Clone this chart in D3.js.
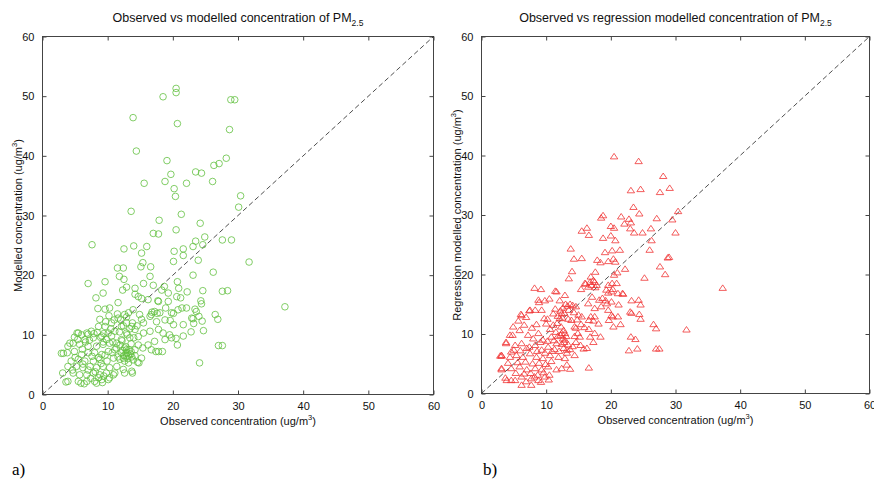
<!DOCTYPE html>
<html>
<head>
<meta charset="utf-8">
<script src="https://cdn.jsdelivr.net/npm/d3@7.9.0/dist/d3.min.js"></script>
<style>
  body { margin: 0; background: #fff; }
  svg { display: block; font-family: "Liberation Sans", Arial, sans-serif; }
</style>
</head>
<body>
<svg id="chart" width="874" height="481"></svg>
<script>
// --- data ---
const axisTicks = [0, 10, 20, 30, 40, 50, 60];
const panelTitles = ['Observed vs modelled concentration of PM', 'Observed vs regression modelled concentration of PM'];
const yLabels = ['Modelled concentration (ug/m', 'Regression modelled concentration (ug/m'];
const xLabel = 'Observed concentration (ug/m';
const panelTags = ['a)', 'b)'];

// panel a: observed vs modelled (circles)
const panelAPoints = [
  [20.5,51.3],[20.5,50.6],[18.5,49.9],[28.9,49.4],[29.5,49.4],[13.9,46.4],[20.7,45.4],[28.7,44.4],[14.4,40.8],[19.1,39.2],
  [28.2,39.6],[27.1,38.7],[26.3,38.4],[19.7,36.9],[23.5,37.3],[24.4,37.1],[15.6,35.4],[18.8,35.7],[22.1,35.4],[26.1,35.7],
  [20.2,34.5],[20.4,33.2],[30.4,33.3],[30.1,31.4],[13.6,30.7],[21.3,30.2],[24.2,28.7],[17.9,29.2],[20.5,27.6],[17.0,27.0],
  [17.8,26.9],[24.9,26.4],[23.5,25.7],[27.6,25.9],[29.0,25.9],[7.6,25.1],[14.0,24.9],[16.0,24.8],[12.5,24.4],[23.1,24.8],
  [24.6,25.1],[21.6,24.4],[20.2,24.0],[21.6,23.3],[15.2,23.7],[23.9,22.5],[20.1,22.3],[31.7,22.2],[11.5,21.2],[12.4,21.2],
  [15.1,21.4],[16.6,21.4],[15.4,22.1],[11.8,19.8],[12.5,19.3],[9.6,18.9],[7.0,18.6],[16.5,19.8],[15.5,18.6],[17.0,18.3],
  [18.7,18.1],[20.7,18.9],[26.2,20.5],[23.1,20.0],[12.9,18.0],[12.3,17.5],[14.2,17.8],[18.3,17.5],[20.9,17.8],[22.2,17.2],
  [24.6,17.4],[27.6,17.3],[28.4,17.4],[9.3,17.0],[8.2,16.2],[14.2,16.8],[19.3,17.0],[21.2,16.2],[24.3,15.7],[37.2,14.7],
  [11.6,15.4],[17.7,15.7],[15.2,16.1],[8.5,14.4],[10.3,14.5],[9.6,14.3],[21.4,14.5],[23.4,14.3],[17.2,13.9],[16.8,13.8],
  [17.6,13.6],[20.1,13.6],[26.5,13.4],[26.9,12.6],[24.5,12.3],[23.1,12.7],[19.6,12.4],[24.7,10.7],[22.8,10.5],[21.6,9.8],
  [19.8,9.5],[27.0,8.2],[27.6,8.2],[20.7,8.3],[24.1,5.3],[18.4,7.2],[17.4,7.2],[14.6,5.4],[13.8,3.6],[12.6,3.6],
  [11.1,3.6],[10.3,2.8],[3.2,6.9],[2.9,6.9],[3.6,2.1],[3.1,3.6],[5.3,10.3],[4.2,8.6],
  [14.7,16.4],[19.3,15.6],[20.6,16.4],[17.8,15.6],[16.2,15.9],[18.9,14.5],[16.7,13.4],[18.0,13.7],[19.8,13.7],[20.8,14.2],
  [22.1,14.5],[23.6,13.9],[24.4,15.2],[13.2,13.7],[13.9,14.2],[14.9,13.4],[15.2,12.6],[15.5,12.0],[16.5,13.1],[17.5,12.2],
  [18.8,12.5],[20.1,11.7],[21.6,11.7],[22.9,12.8],[23.2,11.9],[24.0,13.1],[12.9,12.0],[13.7,11.4],[14.2,10.9],[14.7,9.7],
  [15.5,10.3],[16.5,10.6],[17.8,10.9],[18.5,10.3],[19.5,10.0],[20.5,9.4],[18.8,9.2],[17.2,8.9],[16.2,8.3],[15.4,7.8],
  [14.7,8.3],[13.4,9.5],[14.2,7.5],[16.7,7.5],[17.8,7.2],[13.7,6.3],[15.2,6.1],[12.9,7.5],[13.7,3.9],
  [12.6,13.4],[11.6,12.8],[10.6,12.0],[9.6,11.4],[8.6,11.4],[7.5,10.6],[6.8,10.3],[5.5,10.3],[6.5,9.2],[7.8,9.5],
  [9.1,9.8],[10.1,10.3],[11.1,10.6],[12.1,11.4],[12.9,10.3],[12.1,9.2],[11.4,8.6],[10.3,8.6],[9.3,8.4],[8.3,8.1],
  [7.0,8.1],[5.7,8.4],[4.7,8.6],[3.9,8.1],[3.8,7.0],[4.9,7.2],[6.0,6.7],[7.0,7.0],[8.0,7.0],[9.1,6.7],
  [10.1,7.2],[11.1,7.5],[12.1,7.0],[12.9,6.4],[12.6,7.8],[11.9,5.9],[10.9,6.1],[9.9,5.6],[8.8,5.9],[7.8,5.6],
  [6.5,5.6],[5.5,5.9],[4.4,5.6],[5.2,4.7],[6.2,4.5],[7.3,4.7],[8.3,4.5],[9.3,4.7],[10.3,4.5],[11.4,4.7],
  [12.4,4.2],[13.2,5.3],[3.9,4.7],[4.7,3.6],[5.7,3.3],[6.8,3.3],[7.8,3.6],[8.8,3.3],[9.8,3.6],[10.9,3.3],
  [3.9,2.2],[5.5,2.2],[6.8,2.2],[8.0,2.2],[9.1,2.5],[10.1,2.5],
  [12.5,6.5],[13.0,7.0],[13.3,7.5],[12.8,8.0],[13.5,6.8],[13.1,6.0],[12.6,5.6],[13.6,8.5],[12.2,9.0],[13.0,10.0],
  [13.4,11.0],[12.4,11.5],[12.0,12.5],[11.8,10.5],[14.0,9.5],[13.8,12.0],[12.9,13.0],[11.5,13.5],[11.0,12.5],[10.5,11.0],
  [14.5,11.5],[14.2,6.5],[13.9,5.8],[14.8,5.3],[11.6,6.3],[11.3,7.8],[10.8,8.8],[10.6,9.8],[9.8,9.2],[9.4,10.2],
  [9.7,12.2],[10.2,13.2],[8.8,12.6],[8.4,10.4],[7.2,9.1],[6.6,8.8],[6.1,7.6],[7.6,6.4],[8.6,6.2],[9.6,6.6],
  [9.0,5.2],[8.1,3.8],[8.6,2.8],[9.4,3.1],[7.4,2.7],[6.4,1.8],[5.9,1.9],[8.3,1.9],[9.2,2.0],[7.0,4.1],
  [6.2,5.1],[5.0,6.2],[4.6,4.1],[5.4,9.2],[4.9,9.6],[6.0,10.0],[7.0,10.1],[7.9,10.2],[8.9,9.6],[9.3,8.8],
  [10.7,7.0],[11.9,8.3],[12.3,7.4],[13.2,6.6],[12.8,6.9],[13.6,7.2],[12.4,6.1]
];

// panel b: observed vs regression modelled (triangles)
const panelBPoints = [
  [20.5,39.8],[24.3,39.0],[28.1,36.5],[29.1,34.5],[23.1,34.1],[24.6,34.3],[27.6,33.8],[23.5,31.3],[30.4,30.6],[18.8,29.9],
  [18.5,29.5],[24.4,30.2],[21.6,29.7],[27.1,29.4],[22.8,29.3],[29.5,29.2],[23.1,28.7],[22.1,28.5],[20.0,28.1],[20.5,27.8],
  [16.3,27.8],[15.5,27.3],[23.0,27.7],[26.2,27.7],[23.6,27.0],[24.9,27.0],[30.0,27.0],[16.6,26.6],[18.8,26.1],[20.0,26.5],
  [20.7,25.7],[26.3,25.7],[13.8,24.3],[21.4,24.1],[20.2,24.0],[26.0,24.1],[14.3,22.6],[15.5,22.7],[19.1,23.7],[17.9,22.4],
  [18.4,22.0],[19.6,22.2],[20.4,22.6],[20.7,22.1],[28.8,22.8],[29.0,22.9],[27.6,21.3],[22.2,20.9],[14.0,20.5],[17.6,20.4],
  [20.5,19.9],[21.0,20.3],[25.2,19.4],[28.4,20.0],[13.5,19.3],[16.9,19.6],[17.3,19.0],[16.8,18.7],[16.1,18.4],[17.0,18.2],
  [20.2,18.5],[20.9,18.5],[37.3,17.7],[15.4,17.5],[17.6,17.8],[19.6,16.9],[20.3,17.5],[21.8,16.8],[21.9,16.7],[11.4,17.2],
  [8.2,17.7],[9.2,17.5],[18.7,16.0],[19.2,15.6],[23.2,15.6],[24.3,15.7],[24.6,14.9],[21.2,14.9],[6.2,13.1],[7.4,13.9],
  [9.8,15.6],[8.9,15.3],[10.2,12.5],[23.0,13.7],[23.2,13.5],[24.4,13.3],[24.6,12.5],[20.3,12.9],[19.7,12.3],[21.5,11.6],
  [26.6,11.6],[27.0,10.9],[31.7,10.7],[23.1,9.5],[23.8,9.1],[22.8,7.2],[24.1,7.5],[27.0,7.5],[27.5,7.5],[16.6,4.3],
  [13.7,4.1],[3.8,8.6],[3.1,6.3],[2.9,6.3],[3.1,4.2],[3.7,2.6],[4.6,2.2],[4.8,9.8],
  [16.0,18.5],[17.5,18.7],[16.5,17.9],[17.8,18.2],[19.6,18.2],[19.3,17.4],[20.1,17.1],[21.1,16.8],[17.1,16.2],[18.2,15.7],
  [19.4,15.1],[20.1,15.4],[16.5,15.1],[17.5,14.3],[18.5,14.6],[19.6,14.0],[20.1,13.1],[21.1,12.9],[17.5,12.9],[16.6,12.3],
  [18.1,11.7],[20.4,11.2],[15.5,12.9],[14.4,11.2],[13.9,12.3],[15.2,9.5],[16.8,9.5],[17.3,8.6],[18.4,9.5],[17.5,10.1],
  [14.4,6.4],[13.2,4.8],
  [8.8,15.7],[11.6,17.1],[12.9,16.5],[6.1,13.3],[7.5,14.0],[8.3,14.0],[9.3,14.0],[11.1,13.4],[12.4,13.4],[8.5,11.6],
  [10.0,11.7],[11.1,11.5],[12.1,12.6],[5.9,10.6],[4.4,9.8],[7.2,9.8],[8.8,10.1],[9.5,9.0],[10.8,9.5],[12.4,10.1],
  [3.8,8.4],[5.2,8.1],[6.2,8.4],[7.0,7.6],[8.3,8.1],[9.3,7.3],[10.3,7.8],[11.6,8.4],[12.9,9.0],[13.2,7.3],
  [3.1,6.4],[4.4,6.1],[5.4,6.4],[6.4,6.1],[7.5,6.7],[8.5,6.1],[9.5,5.9],[10.6,6.4],[11.9,6.1],[12.9,5.9],
  [3.1,4.0],[4.6,4.2],[5.9,4.5],[7.0,4.0],[8.3,4.2],[9.3,4.0],[10.3,4.5],[11.6,4.0],[12.4,4.2],[3.9,2.2],
  [5.2,2.2],[6.2,2.8],[7.7,2.5],[8.8,2.2],[9.8,2.8],[7.7,1.4],[6.2,1.4],
  [13.0,15.0],[13.3,14.7],[13.7,15.0],[14.1,14.8],[14.6,14.6],[12.6,14.4],[12.2,13.9],[12.8,13.5],[13.5,14.0],[14.3,13.6],
  [15.0,13.2],[14.8,12.4],[15.4,11.6],[14.6,11.0],[13.4,12.5],[12.5,12.7],[12.3,11.2],[12.7,10.6],[12.9,10.1],[13.1,9.6],
  [12.6,9.2],[12.2,9.8],[12.8,8.6],[13.4,8.2],[12.4,8.3],[13.7,7.4],[14.1,7.9],[14.6,8.6],[15.3,8.1],[15.8,7.5],
  [16.3,7.6],[13.2,6.8],[12.7,7.6],[11.8,9.6],[11.5,10.3],[11.2,8.9],[12.0,7.1],[14.4,9.6],[14.9,10.1],[15.9,11.1],
  [16.6,10.8],[16.9,12.9],[17.3,12.2],[11.8,13.0],[11.4,14.2],
  [5.6,5.2],[6.8,5.3],[7.9,5.0],[8.9,5.1],[9.9,4.9],[10.8,5.4],[6.0,7.2],[7.4,7.8],[8.6,7.1],[9.8,6.8],
  [10.9,7.1],[5.0,7.3],[4.1,5.1],[5.3,3.4],[6.6,3.3],[7.6,3.4],[8.7,3.1],[9.6,3.5],[10.5,3.1],[8.2,2.8],
  [9.2,1.9],[10.4,2.3],[6.9,2.0],[4.6,7.0],[8.0,9.2],[9.1,8.6],[10.2,8.8],[11.3,7.4],[7.8,11.0],[6.6,11.5],
  [6.9,12.8],[9.7,12.6],[10.6,10.8],[11.7,11.8],[5.7,12.2],[4.9,11.2],[10.5,15.9],[12.1,15.6]
];

// --- layout ---
const svg = d3.select('#chart');
const panels = [
  { left: 42.5, right: 433.5, top: 36.5, bottom: 394.5, points: panelAPoints, marker: 'circle', color: '#62c040', tagX: 12 },
  { left: 481.5, right: 869.5, top: 36.5, bottom: 393.5, points: panelBPoints, marker: 'triangle', color: '#f03434', tagX: 483 }
];

function addSup(textSel, base, sup, tail) {
  textSel.append('tspan').text(base);
  textSel.append('tspan').attr('font-size', 7.5).attr('dy', -4.5).text(sup);
  textSel.append('tspan').attr('dy', 4.5).text(tail);
}

panels.forEach((p, i) => {
  const x = d3.scaleLinear().domain([0, 60]).range([p.left, p.right]);
  const y = d3.scaleLinear().domain([0, 60]).range([p.bottom, p.top]);
  const g = svg.append('g');

  // box
  g.append('rect')
    .attr('x', p.left).attr('y', p.top)
    .attr('width', p.right - p.left).attr('height', p.bottom - p.top)
    .attr('fill', 'none').attr('stroke', '#444').attr('stroke-width', 1);

  // inward ticks on all four sides, labels bottom/left only
  const axes = [
    { ax: d3.axisBottom(x), tr: `translate(0,${p.bottom})`, lab: true },
    { ax: d3.axisLeft(y), tr: `translate(${p.left},0)`, lab: true },
    { ax: d3.axisTop(x), tr: `translate(0,${p.top})`, lab: false },
    { ax: d3.axisRight(y), tr: `translate(${p.right},0)`, lab: false }
  ];
  axes.forEach(a => {
    a.ax.tickValues(axisTicks).tickSizeInner(-4).tickSizeOuter(0).tickPadding(8);
    if (!a.lab) a.ax.tickFormat('');
    const ag = g.append('g').attr('transform', a.tr).call(a.ax);
    ag.select('.domain').remove();
    ag.selectAll('line').attr('stroke', '#444');
    ag.selectAll('text').attr('fill', '#111').attr('font-size', 11)
      .attr('font-family', '"Liberation Sans", Arial, sans-serif');
  });

  // 1:1 line
  g.append('line')
    .attr('x1', x(0)).attr('y1', y(0)).attr('x2', x(60)).attr('y2', y(60))
    .attr('stroke', '#222').attr('stroke-width', 0.8).attr('stroke-dasharray', '5,3');

  // markers
  if (p.marker === 'circle') {
    g.selectAll('circle.pt').data(p.points).join('circle')
      .attr('class', 'pt')
      .attr('cx', d => x(d[0])).attr('cy', d => y(d[1])).attr('r', 3.3)
      .attr('fill', 'none').attr('stroke', p.color).attr('stroke-width', 0.8);
  } else {
    const tri = 'M0,-3.3L3.7,2.2L-3.7,2.2Z';
    g.selectAll('path.pt').data(p.points).join('path')
      .attr('class', 'pt')
      .attr('d', tri)
      .attr('transform', d => `translate(${x(d[0])},${y(d[1])})`)
      .attr('fill', 'none').attr('stroke', p.color).attr('stroke-width', 0.8);
  }

  const cx = (p.left + p.right) / 2;
  const cy = (p.top + p.bottom) / 2;

  // title with subscript
  const t = g.append('text').attr('x', cx).attr('y', 22).attr('text-anchor', 'middle')
    .attr('font-size', 12.5).attr('fill', '#111');
  t.append('tspan').text(panelTitles[i]);
  t.append('tspan').attr('font-size', 8.5).attr('dy', 4).text('2.5');

  // x label
  const xl = g.append('text').attr('x', cx).attr('y', p.bottom + 30).attr('text-anchor', 'middle')
    .attr('font-size', 11).attr('fill', '#111');
  addSup(xl, xLabel, '3', ')');

  // y label
  const yl = g.append('text')
    .attr('transform', `translate(${p.left - 21},${cy}) rotate(-90)`)
    .attr('text-anchor', 'middle').attr('font-size', 11).attr('fill', '#111');
  addSup(yl, yLabels[i], '3', ')');

  // panel tag
  svg.append('text').attr('x', p.tagX).attr('y', 475)
    .attr('font-family', '"Liberation Serif", "Times New Roman", serif')
    .attr('font-size', 17).attr('fill', '#000').text(panelTags[i]);
});
</script>
</body>
</html>
